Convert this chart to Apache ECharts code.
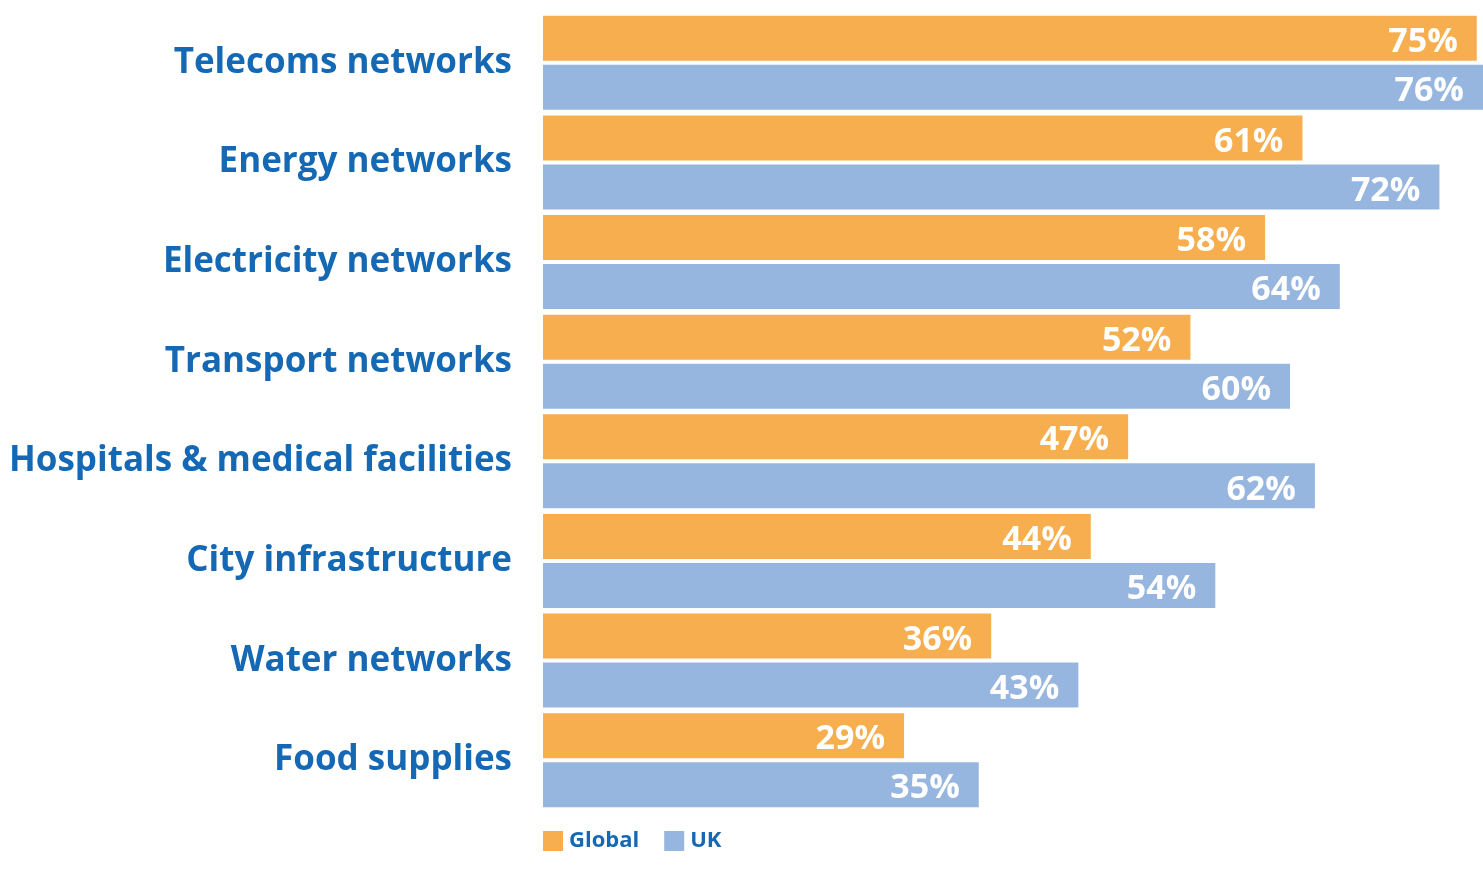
<!DOCTYPE html>
<html><head><meta charset="utf-8">
<script src="https://cdn.jsdelivr.net/npm/echarts@6/dist/echarts.min.js"></script>
<style>html,body{margin:0;padding:0;background:#fff}#c{width:1483px;height:877px}</style>
</head><body><div id="c"></div>
<script>
const categories = ["Telecoms networks","Energy networks","Electricity networks","Transport networks","Hospitals & medical facilities","City infrastructure","Water networks","Food supplies"];
const globalValues = [75,61,58,52,47,44,36,29];
const ukValues = [76,72,64,60,62,54,43,35];
const seriesNames = ["Global","UK"];

const chart = echarts.init(document.getElementById('c'));
const labelCfg = {show:true, position:'insideRight', offset:[-14,4], formatter:'{c}%', color:'#fff', fontFamily:'Open Sans', fontWeight:'bold', fontSize:34};
chart.setOption({
  animation:false,
  grid:{left:543, width:940, top:13, height:797, containLabel:false},
  legend:{left:538, top:825, itemWidth:20, itemHeight:20, itemGap:25, icon:'rect',
    textStyle:{color:'#1569B4', fontFamily:'Open Sans', fontWeight:'bold', fontSize:22, padding:[2,0,0,1]},
    data:seriesNames},
  xAxis:{type:'value', min:0, max:75.5, show:false},
  yAxis:{type:'category', inverse:true, data:categories,
    axisLine:{show:false}, axisTick:{show:false},
    axisLabel:{margin:31, color:'#1569B4', fontFamily:'Open Sans', fontWeight:'bold', fontSize:35, padding:[2,0,0,0]}},
  series:[
    {name:seriesNames[0], type:'bar', data:globalValues, barWidth:45, barGap:'9%', itemStyle:{color:'#F7AE4F'}, label:labelCfg},
    {name:seriesNames[1], type:'bar', data:ukValues, barWidth:45, barGap:'9%', itemStyle:{color:'#97B6DF'}, label:labelCfg}
  ]
});
</script></body></html>
